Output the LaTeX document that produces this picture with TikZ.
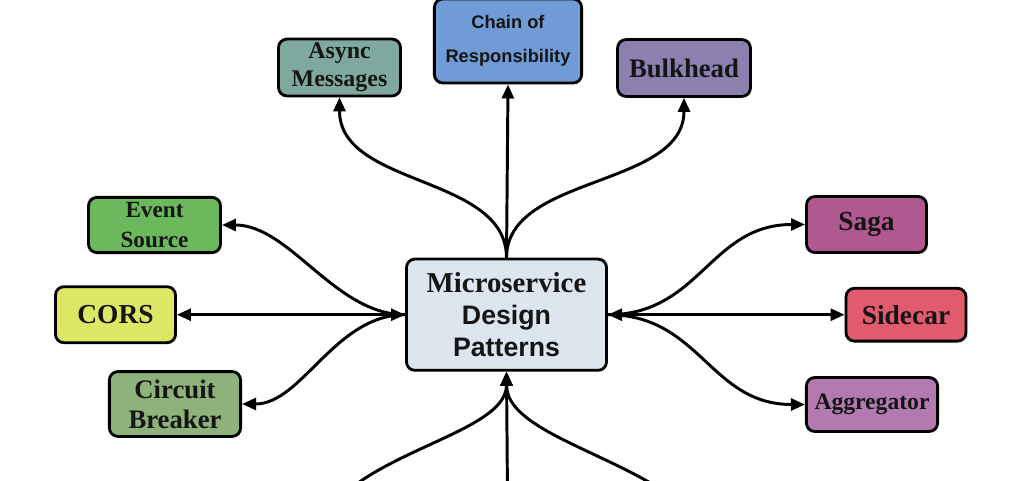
\documentclass[tikz,border=0pt]{standalone}
\usepackage{fontspec}
\setmainfont{Liberation Serif}
\newfontfamily\sansb{Liberation Sans}
\usetikzlibrary{arrows.meta}
\definecolor{cAsync}{HTML}{7FA99E}
\definecolor{cChain}{HTML}{6F9BD6}
\definecolor{cBulk}{HTML}{8C80B0}
\definecolor{cEvent}{HTML}{6CB85D}
\definecolor{cCors}{HTML}{DCE864}
\definecolor{cCirc}{HTML}{8DB27A}
\definecolor{cSaga}{HTML}{B05890}
\definecolor{cSide}{HTML}{E25A6E}
\definecolor{cAggr}{HTML}{B27AB0}
\definecolor{cCenter}{HTML}{DDE5EF}
\definecolor{cText}{HTML}{151515}
\tikzset{
  pbox/.style={draw=black, line width=2pt, rounded corners=6pt, align=center,
    inner sep=0pt, text=cText},
  conn/.style={line width=2.1pt, -{Triangle[length=10pt,width=8.5pt]}},
  conn2/.style={line width=2.1pt, {Triangle[length=10pt,width=8.5pt]}-{Triangle[length=10pt,width=8.5pt]}},
}
\begin{document}
\begin{tikzpicture}[x=0.025cm,y=-0.025cm]
\useasboundingbox (0,0) rectangle (1024,480);
\clip (0,0) rectangle (1024,480);
\fill[white] (0,0) rectangle (1024,480);

% center
\node[pbox, fill=cCenter, minimum width=5cm, minimum height=2.78cm,
  font=\bfseries\fontsize{19}{22.5}\selectfont] (center) at (506.5,314.7)
  {{\fontsize{20.5}{22.5}\selectfont Microservice}\\
   {\sansb Design}\\
   {\sansb Patterns}};

% top
\node[pbox, fill=cAsync, minimum width=3.05cm, minimum height=1.42cm,
  font=\bfseries\fontsize{17}{20}\selectfont] (async) at (339.5,67.5)
  {Async\\Messages};
\node[pbox, fill=cChain, minimum width=3.68cm, minimum height=2.1cm,
  font=\sansb\bfseries\fontsize{13}{24}\selectfont] (chain) at (508,41)
  {Chain of\\Responsibility};
\node[pbox, fill=cBulk, minimum width=3.32cm, minimum height=1.42cm,
  font=\bfseries\fontsize{19}{22}\selectfont] (bulk) at (684,68)
  {Bulkhead};

% left
\node[pbox, fill=cEvent, minimum width=3.3cm, minimum height=1.38cm,
  font=\bfseries\fontsize{16.5}{21}\selectfont] (event) at (154.5,225)
  {Event\\Source};
\node[pbox, fill=cCors, minimum width=3cm, minimum height=1.4cm,
  font=\bfseries\fontsize{19.5}{22}\selectfont] (cors) at (115.5,314.7)
  {CORS};
\node[pbox, fill=cCirc, minimum width=3.28cm, minimum height=1.62cm,
  font=\bfseries\fontsize{19}{21.5}\selectfont] (circ) at (175,404)
  {Circuit\\Breaker};

% right
\node[pbox, fill=cSaga, minimum width=3cm, minimum height=1.4cm,
  font=\bfseries\fontsize{19.5}{22}\selectfont] (saga) at (866.5,224.5)
  {Saga};
\node[pbox, fill=cSide, minimum width=3cm, minimum height=1.32cm,
  font=\bfseries\fontsize{19.5}{22}\selectfont] (side) at (906,314.7)
  {Sidecar};
\node[pbox, fill=cAggr, minimum width=3.28cm, minimum height=1.35cm,
  font=\bfseries\fontsize{16.8}{20}\selectfont] (aggr) at (872,404.5)
  {Aggregator};

% bottom free ends
\coordinate (bl) at (315,545);
\coordinate (bm) at (508,560);
\coordinate (br) at (720,560);

% top connectors
\draw[conn] (center.north) -- (chain.south);
\draw[conn] (center.north) .. controls +(0,-83) and +(0,90) .. (async.south);
\draw[conn] (center.north) .. controls +(0,-83) and +(0,90) .. (bulk.south);

% left connectors
\draw[conn2] (center.west) -- (cors.east);
\draw[conn] (center.west) .. controls +(-70,0) and +(68,0) .. (event.east);
\draw[conn] (center.west) .. controls +(-70,0) and +(60,0) .. (circ.east);

% right connectors
\draw[conn2] (center.east) -- (side.west);
\draw[conn] (center.east) .. controls +(92,0) and +(-95,0) .. (saga.west);
\draw[conn] (center.east) .. controls +(92,0) and +(-95,0) .. (aggr.west);

% bottom connectors
\draw[conn] (bm) -- (center.south);
\draw[conn] (bl) .. controls +(10,-90) and +(0,68) .. (center.south);
\draw[conn] (br) .. controls +(-20,-95) and +(0,75) .. (center.south);
\end{tikzpicture}
\end{document}
